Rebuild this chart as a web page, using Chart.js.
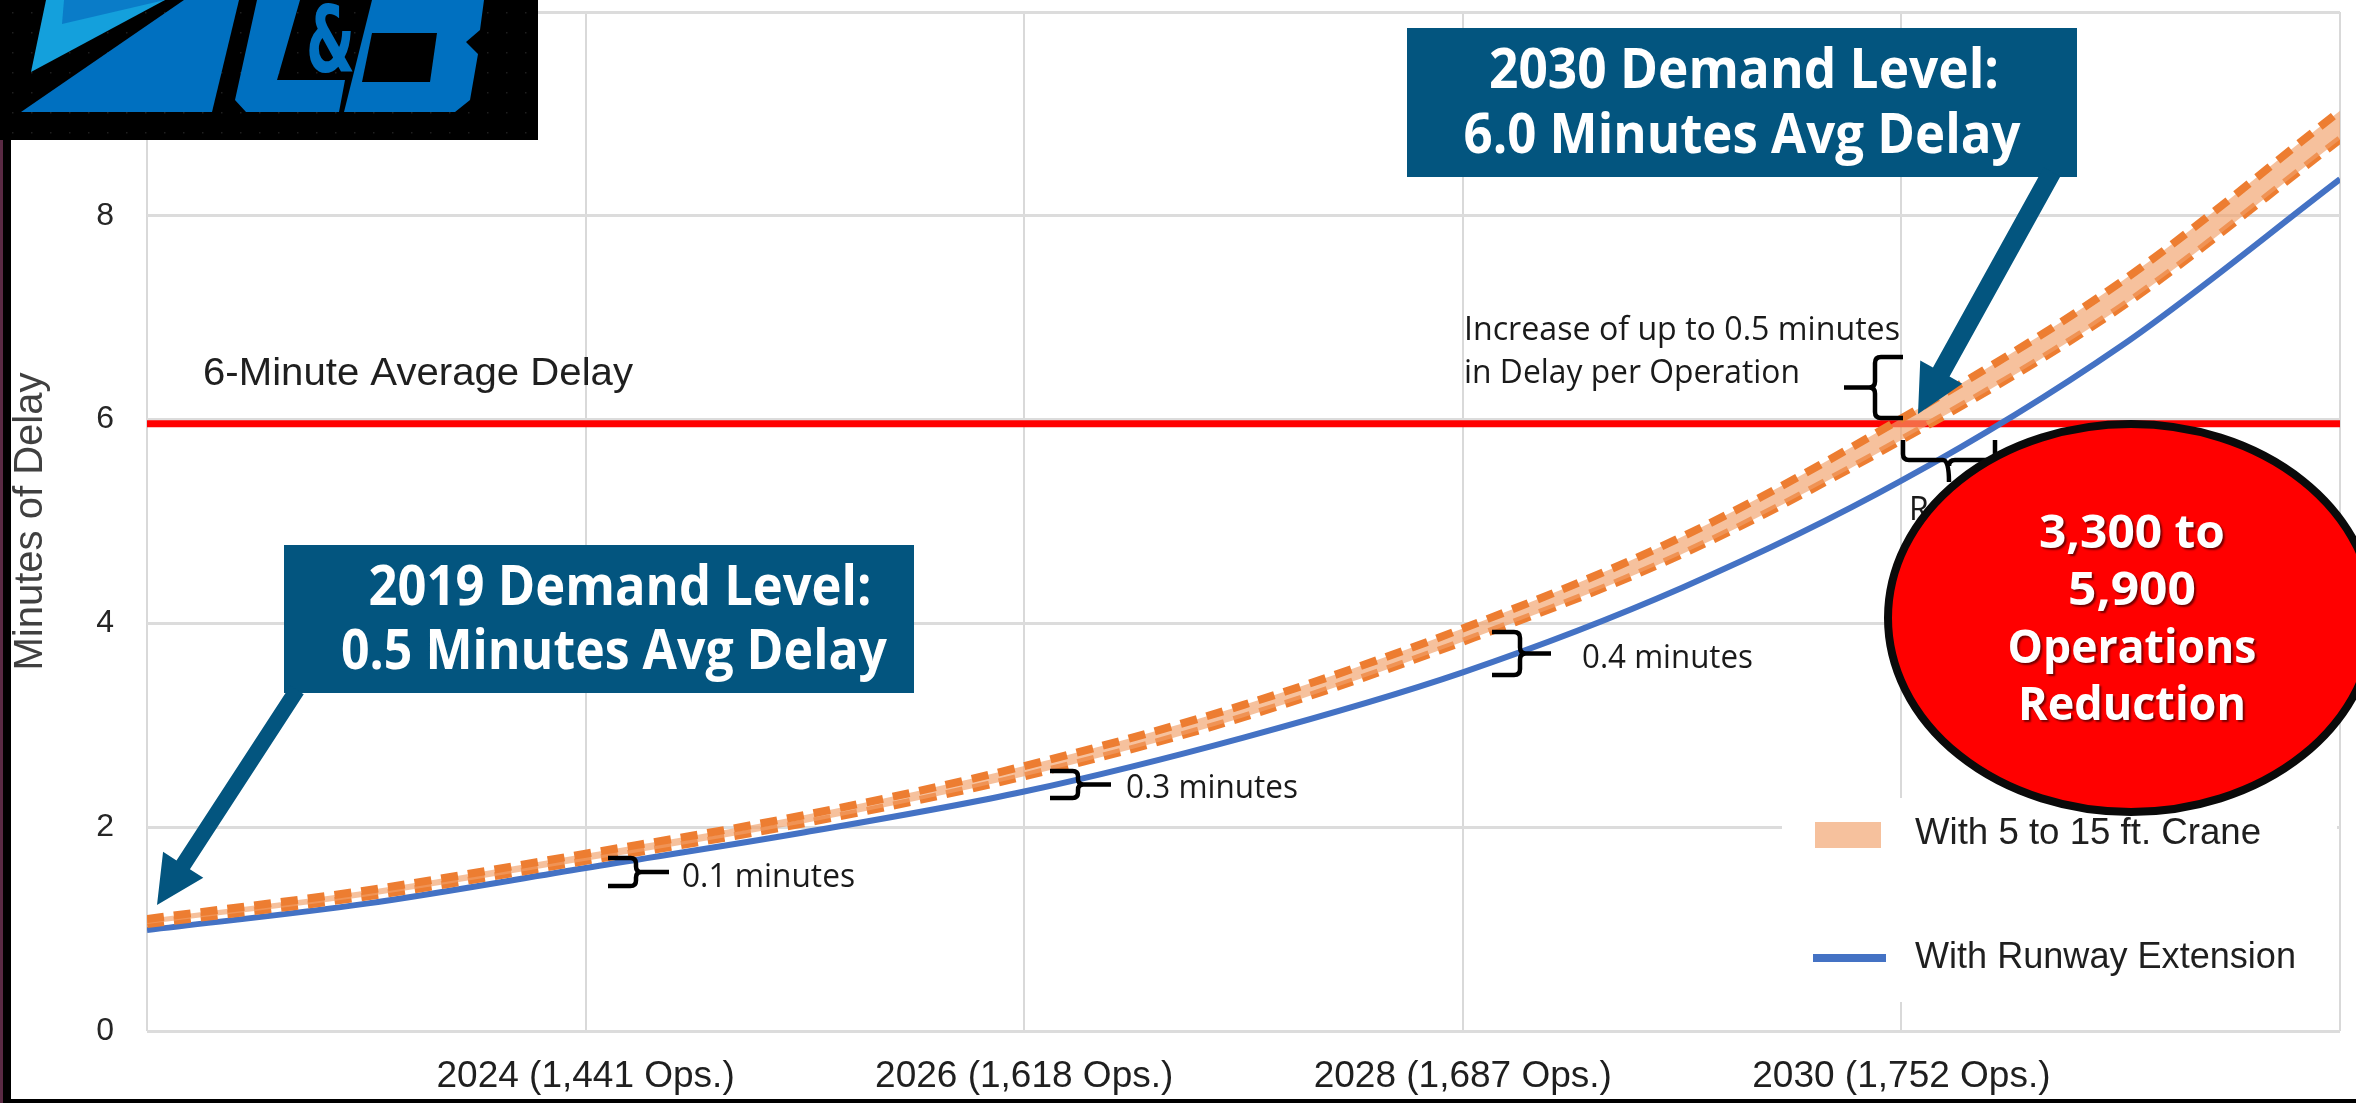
<!DOCTYPE html>
<html>
<head>
<meta charset="utf-8">
<title>Minutes of Delay</title>
<script src="https://cdn.jsdelivr.net/npm/chart.js@4.4.1/dist/chart.umd.min.js"></script>
<style>
  html, body { margin: 0; padding: 0; background: #fff; }
  #wrap { position: relative; width: 2356px; height: 1103px; }
</style>
</head>
<body>
<div id="wrap"><canvas id="chart"></canvas></div>
<script>
// demand steps along the x axis, a gridline every 2 steps
const demandSteps = [0, 1, 2, 3, 4, 5, 6, 7, 8, 9, 10];
const xTickLabels = ['', '2024 (1,441 Ops.)', '2026 (1,618 Ops.)', '2028 (1,687 Ops.)', '2030 (1,752 Ops.)', ''];
const yTickLabels = ['0', '2', '4', '6', '8', ''];

// minutes of delay
const craneHigh = [1.10, 1.38, 1.74, 2.12, 2.60, 3.20, 3.95, 4.85, 6.01, 7.35, 9.03];
const craneLow  = [1.05, 1.32, 1.67, 2.04, 2.50, 3.08, 3.82, 4.68, 5.80, 7.10, 8.75];
const runwayExt = [0.99, 1.25, 1.60, 1.95, 2.35, 2.88, 3.52, 4.35, 5.40, 6.72, 8.36];
const delayLimit = 5.96;

const seriesNames = ['With 5 to 15 ft. Crane', 'With Runway Extension'];

const ORANGE = '#ED7D31';
const BAND = 'rgba(241,160,105,0.65)';
const BLUE = '#4472C4';
const NAVY = '#03557f';
const SANS = '"Liberation Sans", Arial, sans-serif';
const CAL = '"Open Sans", "Noto Sans", sans-serif';

const pts = arr => arr.map((v, i) => ({ x: demandSteps[i], y: v }));

// draw text squeezed/stretched to a given width
function fitText(ctx, str, x, y, w, font, align) {
    ctx.font = font;
    const k = w / ctx.measureText(str).width;
    ctx.save();
    ctx.translate(x, y);
    ctx.scale(k, 1);
    ctx.textAlign = align || 'left';
    ctx.fillText(str, 0, 0);
    ctx.restore();
}

function poly(ctx, p) {
    ctx.beginPath();
    ctx.moveTo(p[0][0], p[0][1]);
    for (let i = 1; i < p.length; i++) ctx.lineTo(p[i][0], p[i][1]);
    ctx.closePath();
    ctx.fill();
}

// vertical curly brace: arms at xa, spine at xs, tip at xt
function vBrace(ctx, xa, xs, xt, y1, y2) {
    const ym = (y1 + y2) / 2, r = Math.min(6, (y2 - y1) / 5), s = Math.sign(xs - xa);
    ctx.beginPath();
    ctx.moveTo(xa, y1);
    ctx.lineTo(xs - s * r, y1);
    ctx.quadraticCurveTo(xs, y1, xs, y1 + r);
    ctx.lineTo(xs, ym - r);
    ctx.quadraticCurveTo(xs, ym, xs + s * r, ym);
    ctx.lineTo(xt, ym);
    ctx.moveTo(xs + s * r, ym);
    ctx.quadraticCurveTo(xs, ym, xs, ym + r);
    ctx.lineTo(xs, y2 - r);
    ctx.quadraticCurveTo(xs, y2, xs - s * r, y2);
    ctx.lineTo(xa, y2);
    ctx.stroke();
}

// horizontal curly brace: arms at ya, bar at yb, tip at yt
function hBrace(ctx, x1, x2, ya, yb, yt) {
    const xm = (x1 + x2) / 2, r = 6;
    ctx.beginPath();
    ctx.moveTo(x1, ya);
    ctx.lineTo(x1, yb - r);
    ctx.quadraticCurveTo(x1, yb, x1 + r, yb);
    ctx.lineTo(xm - r, yb);
    ctx.quadraticCurveTo(xm, yb, xm, yt);
    ctx.moveTo(xm, yb + r);
    ctx.quadraticCurveTo(xm, yb, xm + r, yb);
    ctx.lineTo(x2 - r, yb);
    ctx.quadraticCurveTo(x2, yb, x2, yb - r);
    ctx.lineTo(x2, ya);
    ctx.stroke();
}

function arrow(ctx, x1, y1, x2, y2, w, headLen, headHalf) {
    const len = Math.hypot(x2 - x1, y2 - y1);
    const ux = (x2 - x1) / len, uy = (y2 - y1) / len, nx = -uy, ny = ux;
    const bx = x2 - ux * headLen, by = y2 - uy * headLen;
    poly(ctx, [
        [x1 + nx * w / 2, y1 + ny * w / 2],
        [bx + nx * w / 2, by + ny * w / 2],
        [bx + nx * headHalf, by + ny * headHalf],
        [x2, y2],
        [bx - nx * headHalf, by - ny * headHalf],
        [bx - nx * w / 2, by - ny * w / 2],
        [x1 - nx * w / 2, y1 - ny * w / 2]
    ]);
}

function callout(ctx, box, lines) {
    ctx.fillStyle = NAVY;
    ctx.fillRect(box[0], box[1], box[2], box[3]);
    ctx.fillStyle = '#fff';
    ctx.textBaseline = 'alphabetic';
    lines.forEach(l => fitText(ctx, l.t, l.x, l.y, l.w, 'bold 55px ' + CAL, 'center'));
}

const overlay = {
    id: 'overlay',
    afterDraw(chart) {
        const ctx = chart.ctx;
        ctx.save();

        // legend panel
        ctx.fillStyle = '#fff';
        ctx.fillRect(1782, 798, 555, 204);
        ctx.fillStyle = '#F6C19D';
        ctx.fillRect(1815, 822, 66, 26);
        ctx.fillStyle = BLUE;
        ctx.fillRect(1813, 954, 73, 8);
        ctx.fillStyle = '#1f1f1f';
        ctx.textBaseline = 'middle';
        fitText(ctx, seriesNames[0], 1915, 834, 346, '36px ' + SANS);
        fitText(ctx, seriesNames[1], 1915, 958, 381, '36px ' + SANS);

        // threshold caption
        ctx.textBaseline = 'alphabetic';
        fitText(ctx, '6-Minute Average Delay', 203, 385, 430, '38px ' + SANS);

        // brackets and notes
        ctx.strokeStyle = '#000';
        ctx.lineWidth = 4.5;
        ctx.lineJoin = 'round';
        vBrace(ctx, 608, 636, 669, 858, 886);
        vBrace(ctx, 1050, 1078, 1111, 771, 798);
        vBrace(ctx, 1492, 1520, 1551, 632, 675);
        vBrace(ctx, 1903, 1875, 1844, 357, 418);
        hBrace(ctx, 1903, 1995, 440, 460, 482);

        ctx.fillStyle = '#1a1a1a';
        fitText(ctx, '0.1 minutes', 682, 887, 173, '32px ' + CAL);
        fitText(ctx, '0.3 minutes', 1126, 798, 172, '32px ' + CAL);
        fitText(ctx, '0.4 minutes', 1582, 668, 171, '32px ' + CAL);
        fitText(ctx, 'Increase of up to 0.5 minutes', 1464, 340, 436, '32px ' + CAL);
        fitText(ctx, 'in Delay per Operation', 1464, 383, 336, '32px ' + CAL);
        ctx.font = '32px ' + CAL;
        ctx.fillText('Reduction', 1909, 520);

        // callouts with arrows
        callout(ctx, [1407, 28, 670, 149], [
            { t: '2030 Demand Level:', x: 1744, y: 88, w: 510 },
            { t: '6.0 Minutes Avg Delay', x: 1742, y: 153, w: 557 }
        ]);
        callout(ctx, [284, 545, 630, 148], [
            { t: '2019 Demand Level:', x: 620, y: 605, w: 503 },
            { t: '0.5 Minutes Avg Delay', x: 614, y: 669, w: 546 }
        ]);
        ctx.fillStyle = NAVY;
        arrow(ctx, 2052, 172, 1918, 414, 19, 48, 24);
        arrow(ctx, 297, 690, 157, 905, 16, 48, 24);

        // red bubble
        ctx.beginPath();
        ctx.ellipse(2131, 618, 243, 194, 0, 0, Math.PI * 2);
        ctx.fillStyle = '#ff0000';
        ctx.fill();
        ctx.lineWidth = 8;
        ctx.strokeStyle = '#0a0a0a';
        ctx.stroke();
        ctx.save();
        ctx.shadowColor = 'rgba(0,0,0,0.55)';
        ctx.shadowOffsetX = 2;
        ctx.shadowOffsetY = 2;
        ctx.shadowBlur = 2;
        ctx.fillStyle = '#fff';
        const bubble = [['3,300 to', 548, 186], ['5,900', 605, 128], ['Operations', 663, 249], ['Reduction', 720, 228]];
        bubble.forEach(b => fitText(ctx, b[0], 2132, b[1], b[2], 'bold 47px ' + CAL, 'center'));
        ctx.restore();

        // slide frame
        ctx.fillStyle = '#000';
        ctx.fillRect(0, 0, 11, 1103);
        ctx.fillRect(0, 1099, 2356, 4);
        ctx.fillStyle = '#5a2a44';
        ctx.fillRect(0, 140, 3, 963);

        // logo
        ctx.fillStyle = '#000';
        ctx.fillRect(0, 0, 538, 140);
        ctx.fillStyle = 'rgba(255,255,255,0.12)';
        for (let x = 12; x < 530; x += 19) {
            for (let y = 12; y < 135; y += 20) ctx.fillRect(x, y, 1.5, 1.5);
        }
        ctx.fillStyle = '#14a0dc';
        poly(ctx, [[46, 0], [165, 0], [31, 72]]);
        ctx.fillStyle = '#0a7cc8';
        poly(ctx, [[64, 0], [165, 0], [62, 24]]);
        ctx.fillStyle = '#0070c0';
        poly(ctx, [[21, 112], [212, 112], [239, 0], [184, 0]]);
        poly(ctx, [[257, 0], [300, 0], [277, 80], [345, 80], [339, 112], [246, 112], [235, 100]]);
        poly(ctx, [[372, 0], [484, 0], [480, 30], [466, 42], [478, 54], [470, 100], [455, 112], [344, 112]]);
        ctx.fillStyle = '#000';
        poly(ctx, [[372, 33], [437, 33], [430, 82], [362, 82]]);
        ctx.fillStyle = '#0070c0';
        ctx.textBaseline = 'alphabetic';
        fitText(ctx, '&', 306, 72, 49, 'bold 92px "DejaVu Sans", sans-serif');

        ctx.restore();
    }
};

new Chart(document.getElementById('chart'), {
    type: 'line',
    data: {
        datasets: [
            {
                label: seriesNames[0],
                data: pts(craneHigh),
                borderColor: ORANGE,
                borderWidth: 8,
                borderDash: [17, 10],
                backgroundColor: BAND,
                fill: '+1',
                pointRadius: 0,
                cubicInterpolationMode: 'monotone'
            },
            {
                label: seriesNames[0] + ' (low)',
                data: pts(craneLow),
                borderColor: ORANGE,
                borderWidth: 8,
                borderDash: [17, 10],
                fill: false,
                pointRadius: 0,
                cubicInterpolationMode: 'monotone'
            },
            {
                label: seriesNames[1],
                data: pts(runwayExt),
                borderColor: BLUE,
                borderWidth: 6,
                fill: false,
                pointRadius: 0,
                cubicInterpolationMode: 'monotone'
            },
            {
                label: '6-Minute Average Delay',
                data: [{ x: demandSteps[0], y: delayLimit }, { x: demandSteps[demandSteps.length - 1], y: delayLimit }],
                borderColor: '#ff0000',
                borderWidth: 7,
                fill: false,
                pointRadius: 0
            }
        ]
    },
    options: {
        responsive: true,
        maintainAspectRatio: false,
        animation: false,
        layout: { padding: { top: 12, right: 16, bottom: 0, left: 0 }, autoPadding: false },
        plugins: {
            legend: { display: false },
            tooltip: { enabled: false }
        },
        scales: {
            x: {
                type: 'linear',
                min: 0,
                max: 10,
                afterFit: s => { s.height = 72; s.paddingLeft = 0; s.paddingRight = 0; },
                grid: { color: '#d9d9d9', lineWidth: 2, drawTicks: false },
                border: { display: false },
                ticks: {
                    stepSize: 2,
                    autoSkip: false,
                    maxRotation: 0,
                    padding: 24,
                    color: '#1f1f1f',
                    font: { family: SANS, size: 37 },
                    callback: (v, i) => xTickLabels[i]
                }
            },
            y: {
                min: 0,
                max: 10,
                afterFit: s => { s.width = 147; s.paddingTop = 0; s.paddingBottom = 0; },
                grid: { color: '#dcdcdc', lineWidth: 3, drawTicks: false },
                border: { display: false },
                ticks: {
                    stepSize: 2,
                    padding: 33,
                    color: '#262626',
                    font: { family: SANS, size: 32 },
                    callback: (v, i) => yTickLabels[i]
                },
                title: {
                    display: true,
                    text: 'Minutes of Delay',
                    color: '#404040',
                    font: { family: SANS, size: 40 },
                    padding: { top: 7, bottom: 0 }
                }
            }
        }
    },
    plugins: [overlay]
});
</script>
</body>
</html>
